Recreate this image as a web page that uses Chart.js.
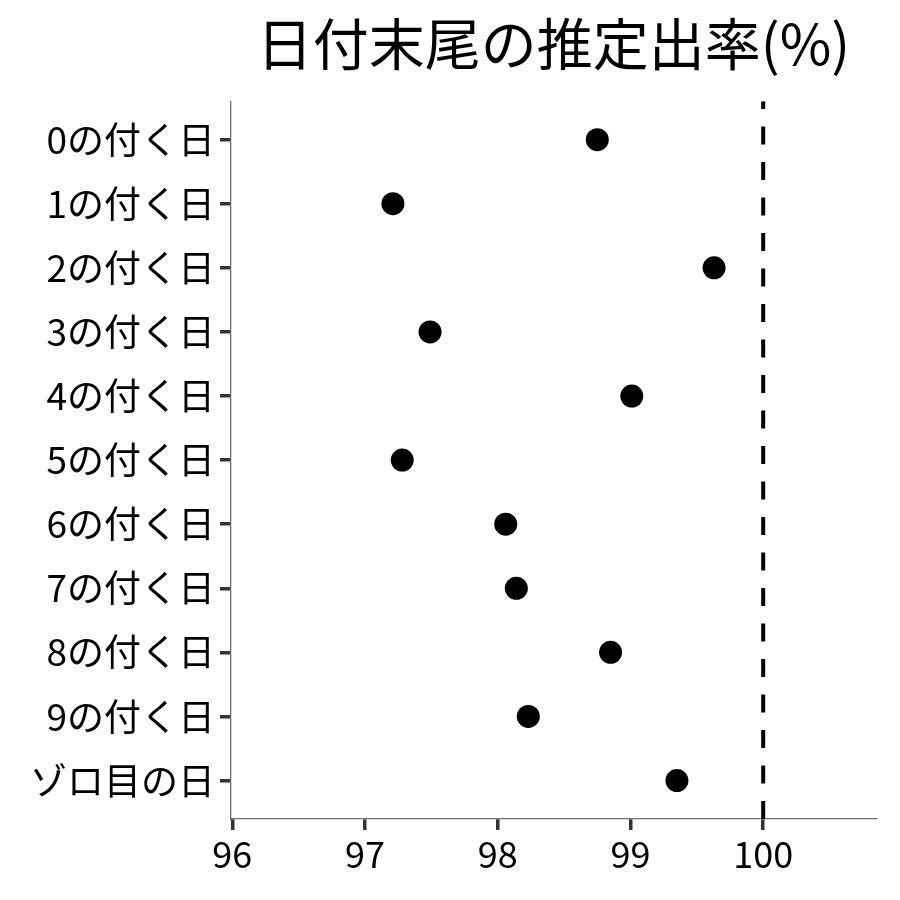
<!DOCTYPE html>
<html>
<head>
<meta charset="utf-8">
<script src="https://cdn.jsdelivr.net/npm/chart.js@4"></script>
<style>
html,body{margin:0;padding:0;background:#fff;}
#wrap{width:900px;height:900px;}
</style>
</head>
<body>
<div id="wrap"><canvas id="c" width="900" height="900"></canvas></div>
<script>
const categories = ["0の付く日","1の付く日","2の付く日","3の付く日","4の付く日","5の付く日","6の付く日","7の付く日","8の付く日","9の付く日","ゾロ目の日"];
const rates = [98.75, 97.21, 99.63, 97.49, 99.01, 97.28, 98.06, 98.14, 98.85, 98.23, 99.35];
const xTicks = [96, 97, 98, 99, 100];
const refValue = 100;
const titleText = "日付末尾の推定出率(%)";

const FONT = "'Noto Sans CJK JP', 'Noto Sans', sans-serif";

const points = rates.map((v, i) => ({x: v, y: i}));

new Chart(document.getElementById('c'), {
  type: 'scatter',
  data: {
    datasets: [
      {
        data: points,
        backgroundColor: '#000',
        borderWidth: 0,
        pointRadius: 11.5,
        pointHoverRadius: 11.5,
        order: 1
      },
      {
        data: [{x: refValue, y: categories.length - 0.4}, {x: refValue, y: -0.6}],
        showLine: true,
        borderColor: '#000',
        borderWidth: 4,
        borderDash: [18, 17.5],
        borderCapStyle: 'butt',
        pointRadius: 0,
        order: 2
      }
    ]
  },
  options: {
    responsive: false,
    animation: false,
    layout: {padding: {left: 0, right: 24, top: 0, bottom: 0}},
    plugins: {
      legend: {display: false},
      tooltip: {enabled: false},
      title: {
        display: true,
        text: titleText,
        fullSize: false,
        color: '#000',
        font: {family: FONT, size: 56, weight: 'normal'},
        padding: {top: 10, bottom: 24}
      }
    },
    scales: {
      x: {
        type: 'linear',
        min: 95.99,
        max: 100.85,
        afterBuildTicks: s => { s.ticks = xTicks.map(v => ({value: v})); },
        afterFit: s => { s.height = 81; },
        border: {display: true, color: '#707070', width: 1.3},
        grid: {display: true, drawOnChartArea: false, drawTicks: true, tickLength: 11, color: '#333', lineWidth: 3.5},
        ticks: {color: '#000', font: {family: FONT, size: 36}, padding: 3, maxRotation: 0}
      },
      y: {
        type: 'linear',
        reverse: true,
        min: -0.6,
        max: categories.length - 0.4,
        afterBuildTicks: s => { s.ticks = categories.map((c, i) => ({value: i})); },
        afterFit: s => { s.width = 231; },
        border: {display: true, color: '#707070', width: 1.3},
        grid: {display: true, drawOnChartArea: false, drawTicks: true, tickLength: 11, color: '#333', lineWidth: 3.5},
        ticks: {
          color: '#000',
          font: {family: FONT, size: 37},
          padding: 5,
          callback: v => categories[v]
        }
      }
    }
  }
});
</script>
</body>
</html>
